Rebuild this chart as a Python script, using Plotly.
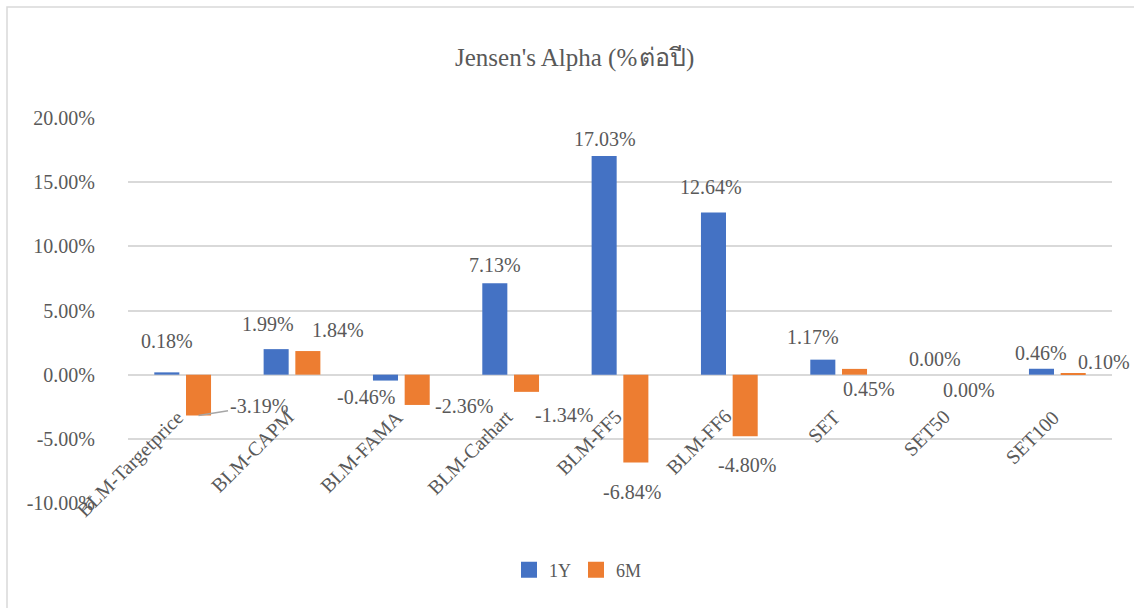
import plotly.graph_objects as go

# ---- data ----
categories = ["BLM-Targetprice", "BLM-CAPM", "BLM-FAMA", "BLM-Carhart", "BLM-FF5",
              "BLM-FF6", "SET", "SET50", "SET100"]
alpha_1y = [0.18, 1.99, -0.46, 7.13, 17.03, 12.64, 1.17, 0.00, 0.46]
alpha_6m = [-3.19, 1.84, -2.36, -1.34, -6.84, -4.80, 0.45, 0.00, 0.10]
series_names = ["1Y", "6M"]
y_ticks = [-10, -5, 0, 5, 10, 15, 20]
title_text = "Jensen's Alpha (%ต่อปี)"

# ---- style ----
W, H = 1134, 608
M_L, M_R, M_T, M_B = 128, 22, 118, 105
BARGAP, BARGROUPGAP = 0.42, 0.21
C_1Y, C_6M = "#4472C4", "#ED7D31"
TXT = "#595959"
GRID = "#D9D9D9"
FONT = "Liberation Serif, Times New Roman, serif"
TITLE_SPLIT_PX = 638  # where the Latin part of the title ends
LEGEND_CX = 578       # legend centre, px

# label offsets (px, dx right, dy down) relative to bar end, per series
off_1y = [(0, -31), (-8, -25), (-19, 16), (0, -18), (1, -17), (-2, -25), (-10, -23), (3, -16), (0, -16)]
off_6m = [(60, -10), (30, -21), (47, 1), (37, 23), (-4, 30), (2, 29), (14, 20), (5, 15), (31, -11)]

plot_w = W - M_L - M_R
plot_h = H - M_T - M_B
cat_px = plot_w / len(categories)
bar_shift = (1 - BARGAP) * cat_px / 4

fig = go.Figure()
for name, vals, col in ((series_names[0], alpha_1y, C_1Y), (series_names[1], alpha_6m, C_6M)):
    fig.add_trace(go.Bar(name=name, x=categories, y=vals, showlegend=False,
                         marker=dict(color=col, line=dict(width=0))))
    # legend entry with a larger square swatch
    fig.add_trace(go.Scatter(name=name, x=[None], y=[None], mode="markers",
                             marker=dict(symbol="square", size=18, color=col)))

annotations = []
for vals, offs, sgn in ((alpha_1y, off_1y, -1), (alpha_6m, off_6m, 1)):
    for i, (c, v) in enumerate(zip(categories, vals)):
        dx, dy = offs[i]
        lead = (sgn == 1 and i == 0)
        ann = dict(x=c, y=v, xref="x", yref="y", text=f"{v:.2f}%",
                   font=dict(family=FONT, size=20, color=TXT),
                   xanchor="center", yanchor="middle")
        if lead:
            ann.update(showarrow=True, arrowhead=0, arrowwidth=1.5, arrowcolor="#A6A6A6",
                       ax=dx, ay=dy, xshift=sgn * bar_shift, standoff=0)
        else:
            ann.update(showarrow=False, xshift=sgn * bar_shift + dx, yshift=-dy)
        annotations.append(ann)

# category labels next to the zero line
for c in categories:
    annotations.append(dict(x=c, y=0, xref="x", yref="y", text=c, showarrow=False,
                            textangle=-45, xanchor="right", yanchor="top",
                            xshift=9, yshift=-28,
                            font=dict(family=FONT, size=20, color=TXT)))

# title: Latin part and Thai part as two adjoining texts
split = next((k for k, ch in enumerate(title_text) if "\u0e00" <= ch <= "\u0e7f"), len(title_text))
title_y = 1 + (M_T - 58) / plot_h
title_x = (TITLE_SPLIT_PX - M_L) / plot_w
annotations.append(dict(text=title_text[:split], xref="paper", yref="paper",
                        x=title_x, y=title_y, xanchor="right", yanchor="middle",
                        showarrow=False, borderpad=0,
                        font=dict(family=FONT, size=25, color=TXT)))
annotations.append(dict(text=title_text[split:], xref="paper", yref="paper",
                        x=title_x, y=title_y, xanchor="left", yanchor="middle",
                        showarrow=False, borderpad=0,
                        font=dict(family=FONT, size=25, color=TXT)))

border = dict(type="rect", xref="paper", yref="paper",
              x0=(7 - M_L) / plot_w, x1=(W + 20 - M_L) / plot_w,
              y0=(plot_h + M_T - H - 20) / plot_h, y1=(plot_h + M_T - 7) / plot_h,
              line=dict(color="#D9D9D9", width=1.5), fillcolor="rgba(0,0,0,0)", layer="below")

fig.update_layout(
    width=W, height=H,
    margin=dict(l=M_L, r=M_R, t=M_T, b=M_B),
    paper_bgcolor="white", plot_bgcolor="white",
    barmode="group", bargap=BARGAP, bargroupgap=BARGROUPGAP,
    font=dict(family=FONT, size=20, color=TXT),
    showlegend=True,
    legend=dict(orientation="h", x=(LEGEND_CX - M_L) / plot_w, xanchor="center",
                y=(M_T + plot_h - 570) / plot_h, yanchor="middle",
                font=dict(family=FONT, size=18, color=TXT), itemwidth=30,
                itemsizing="trace"),
    annotations=annotations,
    shapes=[border],
)
fig.update_xaxes(showticklabels=False, showgrid=False, zeroline=False, showline=False,
                 range=[-0.5, len(categories) - 0.5])
fig.update_yaxes(range=[min(y_ticks), max(y_ticks)], tickvals=y_ticks,
                 ticktext=[f"{t:.2f}%" for t in y_ticks],
                 showgrid=True, gridcolor=GRID, gridwidth=2,
                 zeroline=True, zerolinecolor=GRID, zerolinewidth=2,
                 showline=False, ticklabelstandoff=32,
                 tickfont=dict(family=FONT, size=20, color=TXT))

fig.write_html("out.html", config={"displayModeBar": False},
               post_script="document.body.style.margin='0';document.body.style.padding='0';")
